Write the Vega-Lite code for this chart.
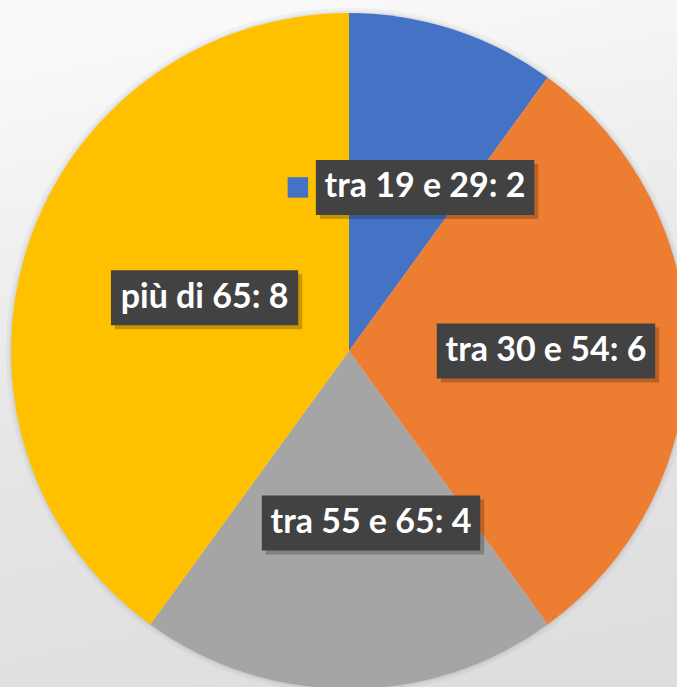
{
  "$schema": "https://vega.github.io/schema/vega-lite/v6.json",
  "width": 698,
  "height": 702,
  "padding": 0,
  "autosize": "none",
  "background": "#ececec",
  "config": {"view": {"stroke": null}},
  "data": {"values": [
    {"label": "tra 19 e 29", "value": 2, "order": 1},
    {"label": "tra 30 e 54", "value": 6, "order": 2},
    {"label": "tra 55 e 65", "value": 4, "order": 3},
    {"label": "più di 65", "value": 8, "order": 4}
  ]},
  "transform": [
    {"window": [{"op": "sum", "field": "value", "as": "cum"}], "sort": [{"field": "order"}], "frame": [null, 0]},
    {"joinaggregate": [{"op": "sum", "field": "value", "as": "total"}]},
    {"calculate": "(datum.cum - datum.value / 2) / datum.total * 2 * PI", "as": "mid"},
    {"calculate": "175 * sin(datum.mid) + 22", "as": "cx"},
    {"calculate": "172 * cos(datum.mid)", "as": "cy"},
    {"calculate": "datum.label + ': ' + datum.value", "as": "txt"},
    {"calculate": "15.6 * length(datum.txt)", "as": "w"},
    {"calculate": "datum.cx - datum.w / 2", "as": "bx1"},
    {"calculate": "datum.cx + datum.w / 2", "as": "bx2"},
    {"calculate": "datum.cy - 27.5", "as": "by1"},
    {"calculate": "datum.cy + 27.5", "as": "by2"},
    {"calculate": "datum.bx1 + 4", "as": "sx1"},
    {"calculate": "datum.bx2 + 4", "as": "sx2"},
    {"calculate": "datum.by1 - 4", "as": "sy1"},
    {"calculate": "datum.by2 - 4", "as": "sy2"},
    {"calculate": "datum.bx1 - 18", "as": "kx"}
  ],
  "layer": [
    {
      "mark": {"type": "rect", "fill": {"gradient": "linear", "x1": 0.3, "y1": 0, "x2": 0.5, "y2": 1, "stops": [{"offset": 0, "color": "#fafafa"}, {"offset": 0.55, "color": "#e6e6e6"}, {"offset": 1, "color": "#dedede"}]}},
      "encoding": {"x": {"value": 0}, "x2": {"value": "width"}, "y": {"value": 0}, "y2": {"value": "height"}}
    },
    {
      "mark": {"type": "arc", "outerRadius": 343, "fill": "#000000", "opacity": 0.035},
      "encoding": {"theta": {"field": "value", "type": "quantitative", "stack": true}, "order": {"field": "order"}}
    },
    {
      "mark": {"type": "arc", "outerRadius": 340, "fill": "#000000", "opacity": 0.05},
      "encoding": {"theta": {"field": "value", "type": "quantitative", "stack": true}, "order": {"field": "order"}}
    },
    {
      "mark": {"type": "arc", "outerRadius": 338},
      "encoding": {
        "theta": {"field": "value", "type": "quantitative", "stack": true},
        "order": {"field": "order"},
        "color": {"field": "label", "type": "nominal", "legend": null,
          "scale": {"domain": ["tra 19 e 29", "tra 30 e 54", "tra 55 e 65", "più di 65"], "range": ["#4472C4", "#ED7D31", "#A5A5A5", "#FFC000"]}}
      }
    },
    {
      "mark": {"type": "rect", "fill": "#000000", "opacity": 0.22},
      "encoding": {
        "x": {"field": "sx1", "type": "quantitative", "scale": {"domain": [-349, 349], "nice": false, "zero": false}, "axis": null},
        "x2": {"field": "sx2"},
        "y": {"field": "sy1", "type": "quantitative", "scale": {"domain": [-351, 351], "nice": false, "zero": false}, "axis": null},
        "y2": {"field": "sy2"}
      }
    },
    {
      "mark": {"type": "rect", "fill": "#424242"},
      "encoding": {
        "x": {"field": "bx1", "type": "quantitative"},
        "x2": {"field": "bx2"},
        "y": {"field": "by1", "type": "quantitative"},
        "y2": {"field": "by2"}
      }
    },
    {
      "transform": [{"filter": "datum.order == 1"}],
      "mark": {"type": "point", "shape": "square", "filled": true, "size": 420, "opacity": 1},
      "encoding": {
        "x": {"field": "kx", "type": "quantitative"},
        "y": {"field": "cy", "type": "quantitative"},
        "color": {"field": "label", "type": "nominal", "legend": null}
      }
    },
    {
      "mark": {"type": "text", "font": "Lato", "fontWeight": "bold", "fontSize": 34, "color": "#ffffff", "align": "center", "baseline": "middle"},
      "encoding": {
        "x": {"field": "cx", "type": "quantitative"},
        "y": {"field": "cy", "type": "quantitative"},
        "text": {"field": "txt"}
      }
    }
  ]
}
